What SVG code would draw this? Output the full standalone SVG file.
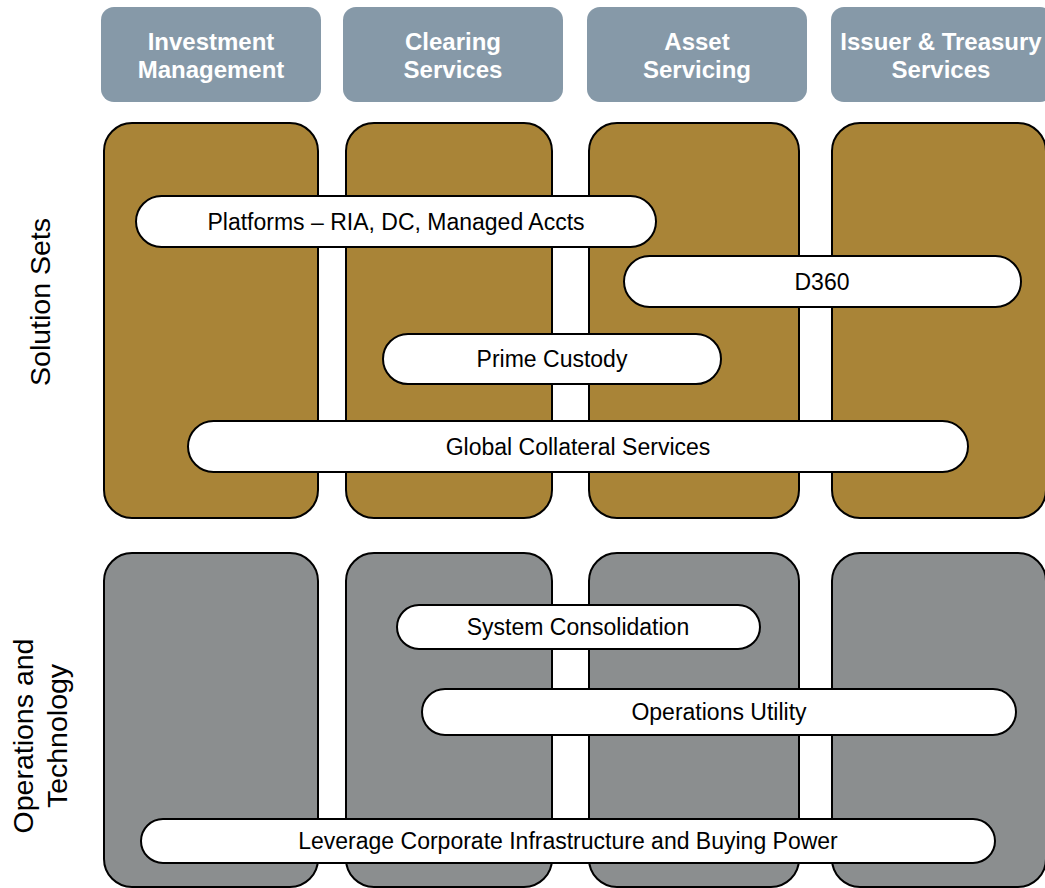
<svg xmlns="http://www.w3.org/2000/svg" width="1045" height="888" viewBox="0 0 1045 888">
<style>
.hdr{fill:#8699A8}
.hdrt{font-family:"Liberation Sans",Arial,sans-serif;font-weight:bold;font-size:24px;fill:#fff;text-anchor:middle}
.gold{fill:#A98437;stroke:#000;stroke-width:2}
.gray{fill:#8B8E8F;stroke:#000;stroke-width:2}
.pill{fill:#fff;stroke:#000;stroke-width:2}
.pt{font-family:"Liberation Sans",Arial,sans-serif;font-size:23px;fill:#000;text-anchor:middle}
.side{font-family:"Liberation Sans",Arial,sans-serif;font-size:28.5px;fill:#000;text-anchor:middle}
</style>
<rect width="1045" height="888" fill="#fff"/>
<g id="hdr-investment"><rect class="hdr" x="101" y="7" width="220" height="95" rx="13"/><text class="hdrt" x="211" y="50">Investment</text><text class="hdrt" x="211" y="78">Management</text></g>
<g id="hdr-clearing"><rect class="hdr" x="343" y="7" width="220" height="95" rx="13"/><text class="hdrt" x="453" y="50">Clearing</text><text class="hdrt" x="453" y="78">Services</text></g>
<g id="hdr-asset"><rect class="hdr" x="587" y="7" width="220" height="95" rx="13"/><text class="hdrt" x="697" y="50">Asset</text><text class="hdrt" x="697" y="78">Servicing</text></g>
<g id="hdr-issuer"><rect class="hdr" x="831" y="7" width="222" height="95" rx="13"/><text class="hdrt" x="941" y="50">Issuer &amp; Treasury</text><text class="hdrt" x="941" y="78">Services</text></g>
<g id="gold-columns">
<rect class="gold" x="104" y="123" width="214" height="395" rx="28"/>
<rect class="gold" x="346" y="123" width="206" height="395" rx="28"/>
<rect class="gold" x="589" y="123" width="210" height="395" rx="28"/>
<rect class="gold" x="832" y="123" width="214" height="395" rx="28"/>
</g>
<g id="gray-columns">
<rect class="gray" x="104" y="553" width="214" height="334" rx="28"/>
<rect class="gray" x="346" y="553" width="206" height="334" rx="28"/>
<rect class="gray" x="589" y="553" width="210" height="334" rx="28"/>
<rect class="gray" x="832" y="553" width="214" height="334" rx="28"/>
</g>
<g id="label-solution"><text class="side" transform="translate(50,302) rotate(-90)">Solution Sets</text></g>
<g id="label-ops"><text class="side" transform="translate(33,736) rotate(-90)">Operations and</text><text class="side" transform="translate(67,736) rotate(-90)">Technology</text></g>
<g id="pill-platforms"><rect class="pill" x="136" y="196" width="520" height="51" rx="25.5"/><text class="pt" x="396" y="230">Platforms – RIA, DC, Managed Accts</text></g>
<g id="pill-d360"><rect class="pill" x="624" y="256" width="397" height="51" rx="25.5"/><text class="pt" x="822" y="290">D360</text></g>
<g id="pill-prime"><rect class="pill" x="383" y="334" width="338" height="50" rx="25"/><text class="pt" x="552" y="367">Prime Custody</text></g>
<g id="pill-collateral"><rect class="pill" x="188" y="421" width="780" height="51" rx="25.5"/><text class="pt" x="578" y="455">Global Collateral Services</text></g>
<g id="pill-sysc"><rect class="pill" x="397" y="605" width="363" height="44" rx="22"/><text class="pt" x="578" y="635">System Consolidation</text></g>
<g id="pill-opsu"><rect class="pill" x="422" y="689" width="594" height="46" rx="23"/><text class="pt" x="719" y="720">Operations Utility</text></g>
<g id="pill-leverage"><rect class="pill" x="141" y="819" width="854" height="44" rx="22"/><text class="pt" x="568" y="849">Leverage Corporate Infrastructure and Buying Power</text></g>
<g id="connectors"></g>
</svg>
